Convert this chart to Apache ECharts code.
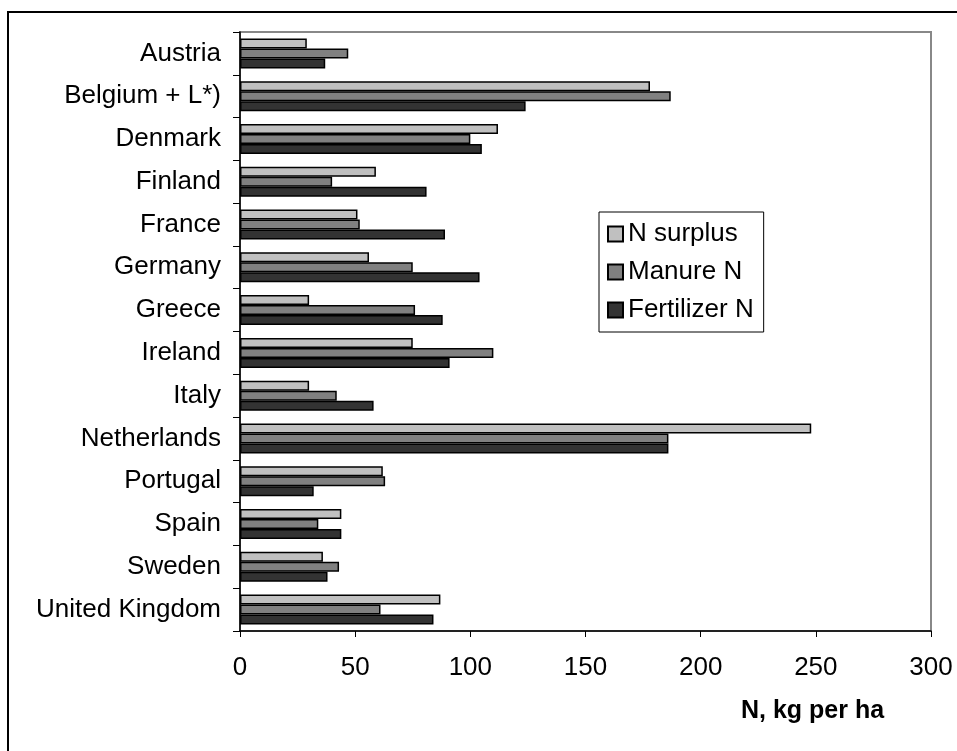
<!DOCTYPE html>
<html><head><meta charset="utf-8">
<script src="https://cdn.jsdelivr.net/npm/echarts@6/dist/echarts.min.js"></script>
<style>html,body{margin:0;padding:0;background:#fff}#c{width:957px;height:751px}</style>
</head><body><div id="c"></div>
<script>
const countries = ['Austria','Belgium + L*)','Denmark','Finland','France','Germany','Greece','Ireland','Italy','Netherlands','Portugal','Spain','Sweden','United Kingdom'];
const nSurplus   = [29, 178, 112, 59, 51, 56, 30, 75, 30, 248, 62, 44, 36, 87];
const manureN    = [47, 187, 100, 40, 52, 75, 76, 110, 42, 186, 63, 34, 43, 61];
const fertilizerN= [37, 124, 105, 81, 89, 104, 88, 91, 58, 186, 32, 44, 38, 84];
const xTicks = [0, 50, 100, 150, 200, 250, 300];
const seriesNames = ['N surplus','Manure N','Fertilizer N'];
const colors = ['#c0c0c0','#808080','#333333'];
const font = 'Liberation Sans, Arial, sans-serif';
const fs = 26;

const chart = echarts.init(document.getElementById('c'));
const data = [nSurplus, manureN, fertilizerN];
chart.setOption({
  animation: false,
  backgroundColor: '#fff',
  title: {text: 'N, kg per ha', left: 741, top: 699, padding: 0, textStyle: {fontFamily: font, fontSize: 25, fontWeight: 'bold', color: '#000'}},
  graphic: [{type: 'rect', shape: {x: 8, y: 12, width: 1000, height: 800}, style: {fill: 'none', stroke: '#000', lineWidth: 2}, silent: true}],
  legend: {
    orient: 'vertical', left: 599, top: 212, padding: [9, 10, 9, 8],
    borderColor: '#000', borderWidth: 1, backgroundColor: '#fff',
    icon: 'rect', itemWidth: 15, itemHeight: 15, itemGap: 12,
    textStyle: {fontFamily: font, fontSize: fs, color: '#000'},
    data: seriesNames
  },
  grid: {left: 240, right: 26, top: 32, bottom: 120, show: true, borderColor: '#888', borderWidth: 2},
  xAxis: {
    type: 'value', min: xTicks[0], max: xTicks[xTicks.length-1], interval: 50,
    axisLine: {show: true, lineStyle: {color: '#000', width: 1.5}},
    axisTick: {show: true, length: 6, lineStyle: {color: '#000'}},
    splitLine: {show: false},
    axisLabel: {fontFamily: font, fontSize: fs, color: '#000', margin: 24}
  },
  yAxis: {
    type: 'category', data: countries, inverse: true,
    axisLine: {show: true, lineStyle: {color: '#000', width: 1.5}},
    axisTick: {show: true, length: 7, lineStyle: {color: '#000'}},
    axisLabel: {fontFamily: font, fontSize: fs, color: '#000', margin: 19}
  },
  series: seriesNames.map((n, i) => ({
    name: n, type: 'bar', data: data[i], barWidth: 10, barGap: '0%',
    itemStyle: {color: colors[i], borderColor: '#000', borderWidth: 1.5}
  }))
});
</script></body></html>
